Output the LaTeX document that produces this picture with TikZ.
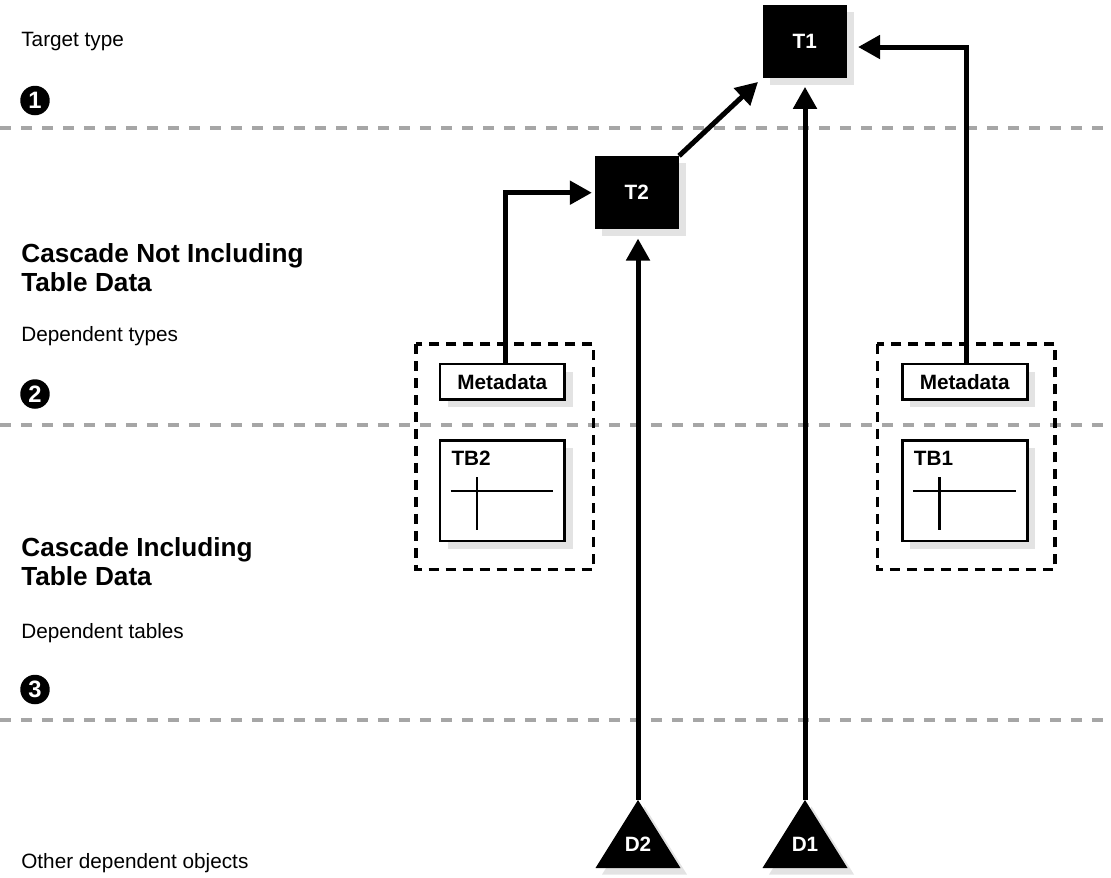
\documentclass[tikz,border=0pt]{standalone}
\usepackage{fontspec}
\setmainfont{Liberation Sans}
\usepackage{tikz}
\usetikzlibrary{arrows.meta}
\usetikzlibrary{shadows}

\definecolor{rulegray}{HTML}{A6A6A6}
\definecolor{shadowgray}{HTML}{E3E3E3}
\newcommand{\labelfont}{\fontsize{11.8}{14}\selectfont}
\newcommand{\boxfont}{\fontsize{11.8}{14}\selectfont\bfseries}
\newcommand{\numfont}{\fontsize{13.5}{14}\selectfont\bfseries}
\newcommand{\headfont}{\fontsize{14.9}{16.3}\selectfont\bfseries}

\begin{document}
\begin{tikzpicture}[x=0.02cm,y=-0.02cm,
    boxshadow/.style={drop shadow={shadow xshift=#1,shadow yshift=-#1,fill=shadowgray,opacity=1}},
    typebox/.style={fill=black,text=white,font=\boxfont,minimum width=1.68cm,minimum height=1.46cm,inner sep=0pt,boxshadow=0.14cm},
    metabox/.style={draw,line width=1.5pt,fill=white,font=\boxfont,minimum width=2.5cm,minimum height=0.71cm,inner sep=0pt,boxshadow=0.16cm},
    tablebox/.style={metabox,minimum height=2.01cm},
    typelabel/.style={text=white,font=\boxfont,inner sep=0pt},
    numdot/.style={circle,fill=black,text=white,font=\numfont,minimum size=0.59cm,inner sep=0pt},
    rowtext/.style={anchor=base west,font=\labelfont,inner sep=0pt},
    headtext/.style={anchor=base west,font=\headfont,align=left,inner sep=0pt},
    bandline/.style={rulegray,line width=0.08cm,dash pattern=on 0.22cm off 0.2cm},
    groupbox/.style={line width=0.07cm,dash pattern=on 0.2cm off 0.14cm},
    arr/.style={line width=0.1cm,-{Triangle[length=0.44cm,width=0.46cm]}},
    gridline/.style={line width=1.4pt}]
\useasboundingbox (0,0) rectangle (1111,877);

\draw[bandline] (0,128) -- (1111,128);
\draw[bandline] (0,425) -- (1111,425);
\draw[bandline] (0,720) -- (1111,720);

\node[rowtext] (targetlbl) at (21,46) {Target type};
\node[numdot] (n1) at (35,100.5) {1};
\node[headtext] (nodatahead) at (21,291) {Cascade Not Including\\Table Data};
\node[rowtext] (deptypeslbl) at (21,341.7) {Dependent types};
\node[numdot] (n2) at (35,394) {2};
\node[headtext] (datahead) at (21,585.5) {Cascade Including\\Table Data};
\node[rowtext] (deptableslbl) at (21,638) {Dependent tables};
\node[numdot] (n3) at (35,689.5) {3};
\node[rowtext] (otherlbl) at (21,868) {Other dependent objects};

\draw[groupbox] (416,344) rectangle (593.3,569.3);
\draw[groupbox] (877.3,344) rectangle (1055,569.3);

\node[typebox] (t1) at (804.7,41) {T1};
\node[typebox] (t2) at (636.7,192.7) {T2};

\node[metabox] (md2) at (502.3,381.7) {Metadata};
\node[metabox] (md1) at (964.7,381.7) {Metadata};
\node[tablebox] (tb2) at (502.3,490.7) {};
\node[tablebox] (tb1) at (964.7,490.7) {};
\node[anchor=base west,font=\boxfont,inner sep=0pt] (tb2name) at ([shift={(12.7,26)}]tb2.north west) {TB2};
\node[anchor=base west,font=\boxfont,inner sep=0pt] (tb1name) at ([shift={(12.7,26)}]tb1.north west) {TB1};
\foreach \tb in {tb1,tb2} {
  \draw[gridline] ([shift={(12,52)}]\tb.north west) -- ++(102.7,0);
  \draw[gridline] ([shift={(38.7,38.3)}]\tb.north west) -- ++(0,52.7);
}

\coordinate (d2top) at (638,800);
\coordinate (d1top) at (805,800);
\fill[boxshadow=0.13cm] (d2top) -- ++(42.5,68) -- ++(-85,0) -- cycle;
\fill[boxshadow=0.13cm] (d1top) -- ++(42.5,68) -- ++(-85,0) -- cycle;
\node[typelabel] (d2) at (638,844.5) {D2};
\node[typelabel] (d1) at (805,844.5) {D1};

\draw[arr,shorten >=0.12cm] (t2.north east) -- (t1.south west);
\draw[arr,shorten >=0.18cm] (d1top) -- (d1top |- t1.south);
\draw[arr,shorten >=0.18cm] (d2top) -- (d2top |- t2.south);
\draw[arr,shorten >=0.05cm] ([xshift=0.06cm]md2.north) |- (t2.west);
\draw[arr,shorten >=0.22cm] ([xshift=0.03cm]md1.north) |- ([yshift=-0.12cm]t1.east);
\end{tikzpicture}
\end{document}
